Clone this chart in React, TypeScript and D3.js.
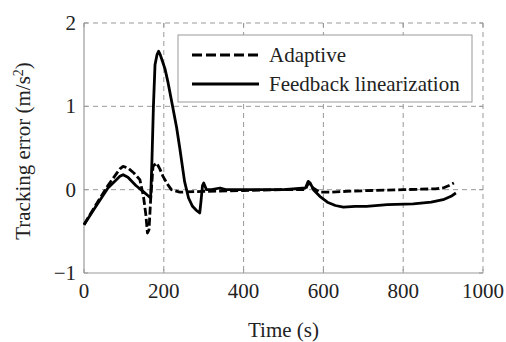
import React from 'react';
import * as d3 from 'd3';

// Time (s) and tracking error (m/s^2)
const fbTime = [0, 30, 60, 90, 98, 110, 130, 150, 160, 167, 170, 174, 178, 183, 187, 191, 196, 203, 210, 222, 232, 240, 252, 262, 272, 282, 290, 293, 297, 300, 307, 320, 341, 355, 400, 500, 555, 562, 567, 575, 591, 610, 630, 650, 680, 708, 760, 825, 870, 900, 920, 932];
const fbError = [-0.42, -0.2, 0.02, 0.16, 0.18, 0.15, 0.05, -0.03, -0.07, -0.1, 0.3, 1.0, 1.5, 1.62, 1.66, 1.62, 1.55, 1.45, 1.3, 1.0, 0.75, 0.5, 0.1, -0.1, -0.2, -0.25, -0.28, -0.15, 0.05, 0.08, 0.0, 0.0, 0.02, 0.0, 0.0, 0.0, 0.02, 0.1, 0.08, 0.0, -0.08, -0.15, -0.19, -0.21, -0.2, -0.2, -0.18, -0.17, -0.15, -0.12, -0.08, -0.04];

const adTime = [0, 30, 60, 90, 98, 110, 125, 140, 149, 155, 159, 163, 167, 173, 182, 190, 198, 210, 219, 240, 300, 400, 500, 555, 562, 567, 574, 590, 620, 658, 720, 800, 880, 900, 915, 927];
const adError = [-0.42, -0.18, 0.05, 0.25, 0.28, 0.26, 0.2, 0.12, -0.08, -0.3, -0.52, -0.48, -0.12, 0.28, 0.32, 0.25, 0.16, 0.06, 0.0, -0.03, -0.02, -0.01, 0.0, 0.0, 0.08, 0.06, 0.02, -0.03, -0.03, -0.02, -0.01, 0.0, 0.01, 0.02, 0.05, 0.08];

const xTicks = [0, 200, 400, 600, 800, 1000];
const yTicks = [-1, 0, 1, 2];

const legendLabels = ['Adaptive', 'Feedback linearization'];

export default function App() {
  const W = 506, H = 342;
  const left = 84, right = 483, top = 23, bottom = 273;

  const x = d3.scaleLinear().domain([0, 1000]).range([left, right]);
  const y = d3.scaleLinear().domain([-1, 2]).range([bottom, top]);

  const line = d3.line<[number, number]>().x(d => x(d[0])).y(d => y(d[1]));
  const fbPath = line(fbTime.map((t, i) => [t, fbError[i]]));
  const adPath = line(adTime.map((t, i) => [t, adError[i]]));

  const grid = '#999';
  const txt = { fontFamily: 'Liberation Serif', fontSize: 21, fill: '#222' };

  return (
    <svg width={W} height={H} style={{ position: 'absolute', left: 0, top: 0, background: '#fff' }}>
      <rect width={W} height={H} fill="#fff" />
      {/* grid */}
      {xTicks.slice(1).map(t => (
        <line key={'gx' + t} x1={x(t)} x2={x(t)} y1={top} y2={bottom} stroke={grid} strokeWidth={1} strokeDasharray="5,4" />
      ))}
      {yTicks.slice(1).map(t => (
        <line key={'gy' + t} x1={left} x2={right} y1={y(t)} y2={y(t)} stroke={grid} strokeWidth={1} strokeDasharray="5,4" />
      ))}
      {/* solid left/bottom axes */}
      <line x1={left} x2={left} y1={top} y2={bottom} stroke={grid} strokeWidth={1.2} />
      <line x1={left} x2={right} y1={bottom} y2={bottom} stroke={grid} strokeWidth={1.2} />
      {/* ticks */}
      {xTicks.map(t => (
        <g key={'tx' + t}>
          <line x1={x(t)} x2={x(t)} y1={bottom} y2={bottom - 4} stroke={grid} />
          <line x1={x(t)} x2={x(t)} y1={top} y2={top + 4} stroke={grid} />
          <text x={x(t)} y={298} textAnchor="middle" style={txt}>{t}</text>
        </g>
      ))}
      {yTicks.map(t => (
        <g key={'ty' + t}>
          <line x1={left} x2={left + 4} y1={y(t)} y2={y(t)} stroke={grid} />
          <line x1={right} x2={right - 4} y1={y(t)} y2={y(t)} stroke={grid} />
          <text x={76} y={y(t) + 7} textAnchor="end" style={txt}>{t < 0 ? '\u2212' + Math.abs(t) : t}</text>
        </g>
      ))}
      {/* data */}
      <path d={adPath ?? ''} fill="none" stroke="#000" strokeWidth={2.8} strokeDasharray="8,3" strokeLinejoin="round" />
      <path d={fbPath ?? ''} fill="none" stroke="#000" strokeWidth={2.8} strokeLinejoin="round" />
      {/* legend */}
      <rect x={178} y={35} width={294} height={67} fill="#fff" stroke={grid} strokeWidth={1} />
      <line x1={192} x2={259} y1={55} y2={55} stroke="#000" strokeWidth={3} strokeDasharray="10,4" />
      <line x1={192} x2={259} y1={84} y2={84} stroke="#000" strokeWidth={3} />
      <text x={269} y={62} style={txt}>{legendLabels[0]}</text>
      <text x={269} y={91} style={txt}>{legendLabels[1]}</text>
      {/* axis titles */}
      <text x={(left + right) / 2} y={337} textAnchor="middle" style={txt}>Time (s)</text>
      <text transform="translate(30,151) rotate(-90)" textAnchor="middle" style={txt}>
        Tracking error (m/s<tspan dy={-7} fontSize={14}>2</tspan><tspan dy={7}>)</tspan>
      </text>
    </svg>
  );
}
